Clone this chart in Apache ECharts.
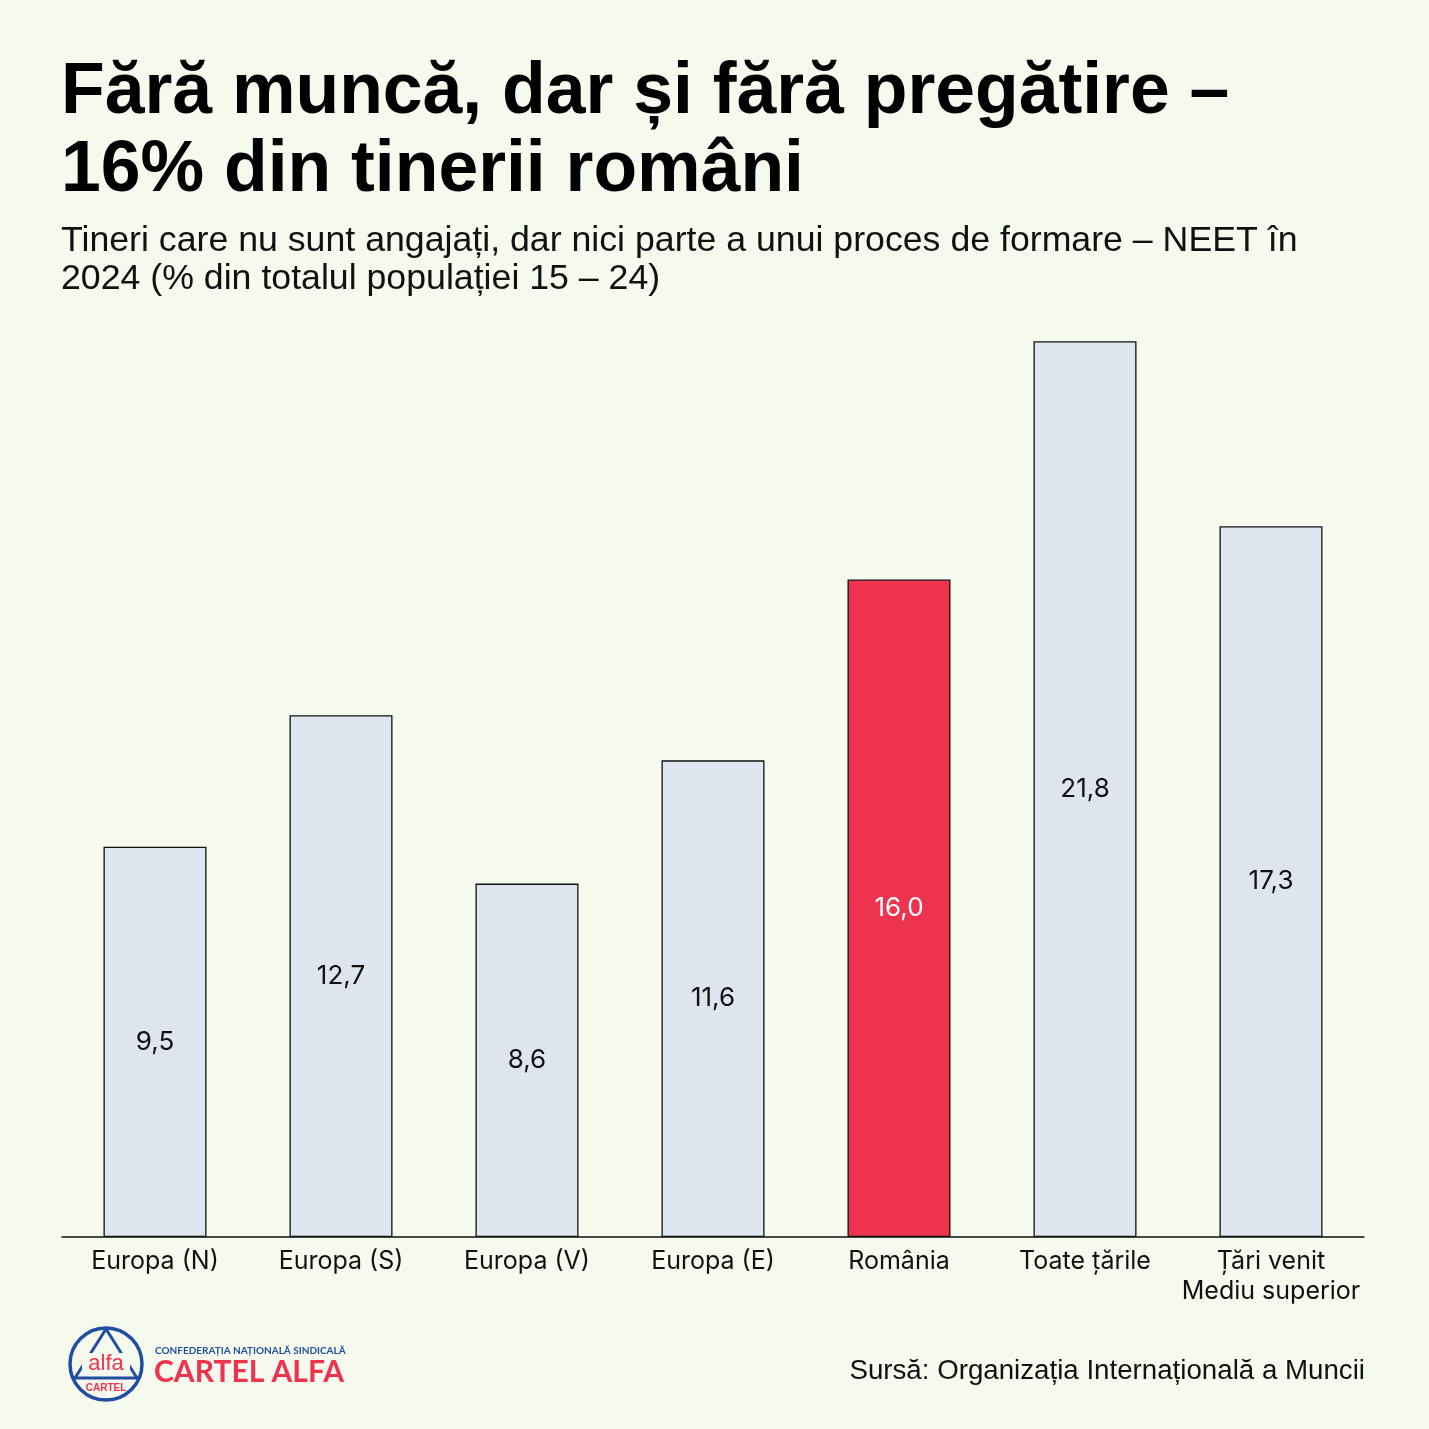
<!DOCTYPE html>
<html>
<head>
<meta charset="utf-8">
<script src="https://cdn.jsdelivr.net/npm/echarts@6/dist/echarts.min.js"></script>
<style>
html,body{margin:0;padding:0;background:#f6f9ee;}
#c{width:1429px;height:1429px;}
</style>
</head>
<body>
<div id="c"></div>
<script>
const categories = ['Europa (N)', 'Europa (S)', 'Europa (V)', 'Europa (E)', 'România', 'Toate țările', 'Țări venit\nMediu superior'];
const values = [9.5, 12.7, 8.6, 11.6, 16.0, 21.8, 17.3];
const highlightIndex = 4;

const chart = echarts.init(document.getElementById('c'));
const blue = '#1f4f9e', red = '#ee334e';
chart.setOption({
  backgroundColor: '#f6f9ee',
  animation: false,
  title: [
    {
      text: 'Fără muncă, dar și fără pregătire –\n16% din tinerii români',
      left: 61, top: 54, padding: 0,
      textStyle: {fontFamily: 'Liberation Sans', fontWeight: 'bold', fontSize: 71.5, lineHeight: 78, color: '#000'}
    },
    {
      text: 'Tineri care nu sunt angajați, dar nici parte a unui proces de formare – NEET în\n2024 (% din totalul populației 15 – 24)',
      left: 61, top: 222, padding: 0,
      textStyle: {fontFamily: 'Liberation Sans', fontWeight: 'normal', fontSize: 35.7, lineHeight: 38, color: '#111'}
    },
    {
      text: 'Sursă: Organizația Internațională a Muncii',
      right: 64, top: 1357, padding: 0,
      textStyle: {fontFamily: 'Liberation Sans', fontWeight: 'normal', fontSize: 27.7, color: '#111'}
    }
  ],
  grid: {left: 62, width: 1302, top: 333, bottom: 1429 - 1237},
  xAxis: {
    type: 'category', data: categories,
    axisLine: {lineStyle: {color: '#111', width: 1.5}},
    axisTick: {show: false},
    axisLabel: {fontFamily: 'Inter', fontSize: 25, color: '#111', margin: 9, lineHeight: 30, interval: 0}
  },
  yAxis: {type: 'value', min: 0, max: 22, show: false, splitLine: {show: false}},
  series: [{
    type: 'bar',
    barWidth: 103,
    data: values.map((v, i) => ({
      value: v,
      itemStyle: {color: i === highlightIndex ? red : '#dfe5ef'},
      label: {color: i === highlightIndex ? '#fff' : '#111'}
    })),
    itemStyle: {borderColor: '#111', borderWidth: 1.3},
    label: {
      show: true, position: 'inside', fontFamily: 'Inter', fontSize: 26,
      formatter: p => p.value.toFixed(1).replace('.', ',')
    }
  }],
  graphic: [
    {type: 'circle', shape: {cx: 106, cy: 1364, r: 36}, style: {fill: 'none', stroke: blue, lineWidth: 3.5}},
    {type: 'polyline', shape: {points: [[75, 1378], [106, 1329], [137, 1378]]}, style: {fill: 'none', stroke: blue, lineWidth: 3}},
    {type: 'line', shape: {x1: 72, y1: 1378, x2: 140, y2: 1378}, style: {stroke: blue, lineWidth: 3}},
    {type: 'rect', shape: {x: 82, y: 1353, width: 48, height: 21}, style: {fill: '#f6f9ee'}},
    {type: 'text', x: 106, y: 1364, style: {text: 'alfa', fontFamily: 'Liberation Sans', fontSize: 22, fill: red, align: 'center', verticalAlign: 'middle'}},
    {type: 'text', x: 106, y: 1388, style: {text: 'CARTEL', fontFamily: 'Liberation Sans', fontWeight: 'bold', fontSize: 10, fill: red, align: 'center', verticalAlign: 'middle'}},
    {type: 'text', x: 155, y: 1351, style: {text: 'CONFEDERAȚIA NAȚIONALĂ SINDICALĂ', fontFamily: 'Lato', fontWeight: 'bold', fontSize: 10, fill: blue, verticalAlign: 'middle'}},
    {type: 'text', x: 154, y: 1372, style: {text: 'CARTEL ALFA', fontFamily: 'Lato', fontWeight: 'bold', fontSize: 30, fill: red, verticalAlign: 'middle'}}
  ]
});
</script>
</body>
</html>
